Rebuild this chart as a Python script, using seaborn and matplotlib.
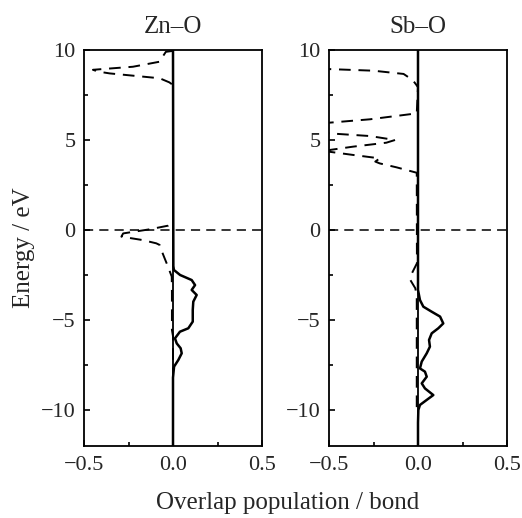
import numpy as np
import pandas as pd
import matplotlib
matplotlib.use("Agg")
import matplotlib.pyplot as plt
from matplotlib.ticker import AutoMinorLocator
import seaborn as sns

# ── Data (energy in eV, overlap population) ──
panel_titles = ["Zn\u2013O", "Sb\u2013O"]

zn_solid_energy = [10.0, -2.0, -2.22, -2.5, -2.78, -3.06, -3.33, -3.61, -3.98, -4.44,
                   -5.09, -5.46, -5.65, -6.02, -6.3, -6.57, -6.85, -7.22, -7.59, -8.2,
                   -12.0]
zn_solid_value = [0.0, 0.002, 0.005, 0.04, 0.105, 0.124, 0.105, 0.133, 0.114, 0.111,
                  0.111, 0.086, 0.039, 0.011, 0.021, 0.043, 0.049, 0.030, 0.006, 0.0,
                  0.0]

zn_dash_energy = [9.95, 9.9, 9.6, 9.35, 9.07, 8.9, 8.8, 8.7, 8.43, 8.2, 8.05, 5.0,
                  0.5, 0.24, 0.04, -0.19, -0.37, -0.56, -0.74, -0.83, -1.1, -1.5,
                  -1.94, -2.59, -3.5, -5.55, -5.9, -7.4, -12.0]
zn_dash_value = [0.0, -0.04, -0.06, -0.075, -0.225, -0.45, -0.42, -0.356, -0.075, -0.02, 0.0, 0.0,
                 0.0, -0.028, -0.13, -0.28, -0.29, -0.17, -0.094, -0.075, -0.066, -0.05,
                 -0.032, -0.007, -0.006, -0.006, 0.0, 0.0, 0.0]

sb_solid_energy = [10.0, -3.33, -3.89, -4.26, -4.54, -4.81, -5.19, -5.46, -5.74, -6.11,
                   -6.48, -6.85, -7.31, -7.69, -7.87, -8.15, -8.52, -8.8, -9.17, -9.44,
                   -9.72, -10.0, -10.7, -12.0]
sb_solid_value = [0.0, 0.0, 0.011, 0.030, 0.077, 0.124, 0.142, 0.114, 0.077, 0.062,
                  0.067, 0.049, 0.021, 0.011, 0.039, 0.049, 0.021, 0.039, 0.086, 0.049,
                  0.011, 0.002, 0.0, 0.0]

sb_dash_energy = [10.0, 9.3, 8.94, 8.85, 8.67, 8.33, 8.1, 7.93, 6.48, 6.15, 5.96, 5.65,
                  5.37, 5.22, 5.0, 4.85, 4.63, 4.44, 4.40, 4.35, 4.17, 3.98, 3.8,
                  3.7, 3.48, 3.18, -1.85, -2.4, -2.78, -3.24, -3.7, -10.0]
sb_dash_value = [-1.2, -0.8, -0.5, -0.25, -0.081, -0.03, -0.012, 0.0, -0.007, -0.27, -0.5, -0.9,
                 -0.5, -0.27, -0.129, -0.178, -0.365, -0.5, -0.6, -0.5, -0.365, -0.215, -0.24,
                 -0.215, -0.12, -0.007, -0.006, -0.034, -0.043, -0.015, -0.007, -0.007]

x_ticks = [-0.5, 0.0, 0.5]
y_ticks = [-10, -5, 0, 5, 10]

sns.set_theme(style="ticks")
plt.rcParams["font.family"] = ["Liberation Serif", "DejaVu Serif"]
plt.rcParams["axes.unicode_minus"] = True

fig = plt.figure(figsize=(5.22, 5.18), dpi=100)
ax_zn = fig.add_axes([84 / 522, 72 / 518, 178 / 522, 396 / 518])
ax_sb = fig.add_axes([329 / 522, 72 / 518, 178 / 522, 396 / 518])

panels = [
    (ax_zn, zn_solid_energy, zn_solid_value, zn_dash_energy, zn_dash_value),
    (ax_sb, sb_solid_energy, sb_solid_value, sb_dash_energy, sb_dash_value),
]

for (ax, se, sv, de, dv), title in zip(panels, panel_titles):
    # reference lines: Fermi level (dashed) and zero overlap (solid)
    ax.axhline(0, color="black", lw=1.1, ls=(0, (6, 4)), zorder=1)
    ax.axvline(0, color="black", lw=1.3, zorder=1)

    sns.lineplot(x=dv, y=de, sort=False, estimator=None, ax=ax,
                 color="black", lw=1.4, linestyle=(0, (6, 4)))
    sns.lineplot(x=sv, y=se, sort=False, estimator=None, ax=ax,
                 color="black", lw=1.8)

    ax.set_xlim(-0.5, 0.5)
    ax.set_ylim(-12, 10)
    ax.set_xticks(x_ticks)
    ax.set_xticklabels([f"{t:.1f}".replace("-", "\u2212") for t in x_ticks])
    ax.set_yticks(y_ticks)
    ax.set_yticklabels([f"{t}".replace("-", "\u2212") for t in y_ticks])
    ax.xaxis.set_minor_locator(AutoMinorLocator(2))
    ax.yaxis.set_minor_locator(AutoMinorLocator(2))
    ax.tick_params(which="both", direction="in", top=False, right=False,
                   labelsize=16, color="black")
    ax.tick_params(which="major", length=4, width=1.2)
    ax.tick_params(which="minor", length=3, width=1.2)
    ax.tick_params(axis="x", pad=7)
    ax.tick_params(axis="y", pad=6)
    for sp in ax.spines.values():
        sp.set_visible(True)
        sp.set_color("black")
        sp.set_linewidth(1.3)
    ax.set_xlabel("")
    ax.set_ylabel("")
    ax.set_title(title, fontsize=18, pad=12)

ax_zn.set_ylabel("Energy / eV", fontsize=18, labelpad=4)
fig.text(288 / 522, 1 - 503 / 518, "Overlap population / bond",
         ha="center", va="center", fontsize=18)

fig.savefig("out.png", dpi=100)
